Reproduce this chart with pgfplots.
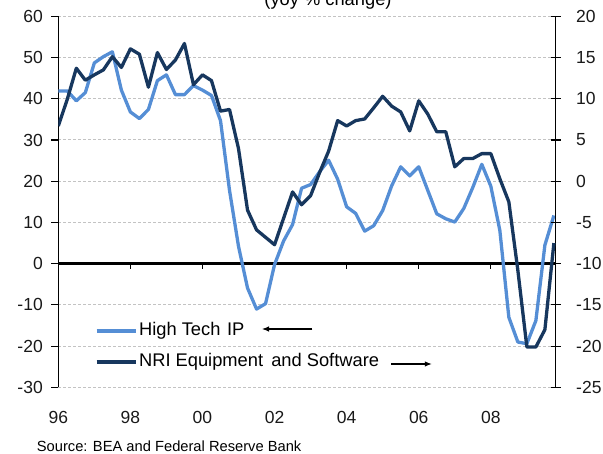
\documentclass[border=0pt]{standalone}
\usepackage{fontspec}
\setmainfont{Liberation Sans}
\usepackage{pgfplots}
\pgfplotsset{compat=1.18}
\usetikzlibrary{arrows.meta}
\definecolor{hightech}{RGB}{85,142,213}
\definecolor{nri}{RGB}{23,55,94}
\definecolor{gridgray}{RGB}{195,195,195}

\pgfplotstableread{
x y
1996.00 41.9
1996.25 41.9
1996.50 39.5
1996.75 41.5
1997.00 48.7
1997.25 50.2
1997.50 51.4
1997.75 42.1
1998.00 36.8
1998.25 35.2
1998.50 37.4
1998.75 44.4
1999.00 45.8
1999.25 41.0
1999.50 41.0
1999.75 43.2
2000.00 42.1
2000.25 40.8
2000.50 34.7
2000.75 17.8
2001.00 4.2
2001.25 -5.9
2001.50 -11.0
2001.75 -9.7
2002.00 -0.2
2002.25 5.5
2002.50 9.5
2002.75 18.3
2003.00 19.2
2003.25 22.3
2003.50 25.1
2003.75 20.5
2004.00 13.8
2004.25 12.2
2004.50 7.9
2004.75 9.2
2005.00 12.9
2005.25 18.9
2005.50 23.5
2005.75 21.3
2006.00 23.5
2006.25 17.8
2006.50 12.1
2006.75 10.9
2007.00 10.1
2007.25 13.4
2007.50 18.5
2007.75 24.1
2008.00 18.8
2008.25 8.1
2008.50 -13.0
2008.75 -19.0
2009.00 -19.4
2009.25 -13.8
2009.50 4.5
2009.75 11.7
}\hightechdata

\pgfplotstableread{
x y
1996.00 6.7
1996.25 9.95
1996.50 13.7
1996.75 12.25
1997.00 12.9
1997.25 13.5
1997.50 15.1
1997.75 13.8
1998.00 16.05
1998.25 15.4
1998.50 11.4
1998.75 15.6
1999.00 13.55
1999.25 14.7
1999.50 16.7
1999.75 11.7
2000.00 12.9
2000.25 12.2
2000.50 8.5
2000.75 8.7
2001.00 3.95
2001.25 -3.5
2001.50 -5.9
2001.75 -6.8
2002.00 -7.7
2002.25 -4.5
2002.50 -1.3
2002.75 -2.85
2003.00 -1.75
2003.25 1.05
2003.50 3.65
2003.75 7.35
2004.00 6.7
2004.25 7.35
2004.50 7.55
2004.75 8.9
2005.00 10.3
2005.25 9.1
2005.50 8.4
2005.75 6.1
2006.00 9.75
2006.25 8.15
2006.50 6.0
2006.75 6.0
2007.00 1.75
2007.25 2.75
2007.50 2.75
2007.75 3.35
2008.00 3.35
2008.25 0.3
2008.50 -2.5
2008.75 -10.8
2009.00 -20.1
2009.25 -20.1
2009.50 -18.0
2009.75 -7.5
}\nridata

\begin{document}
\begin{tikzpicture}
\pgfplotsset{
  every axis/.append style={
    scale only axis, width=497.4pt, height=371.1pt,
    at={(0pt,0pt)}, anchor=south west,
    xmin=1996, xmax=2009.8,
    /pgf/number format/assume math mode=true,
    tick label style={font=\fontsize{17.5}{20}\selectfont, text=black!90},
    major tick length=7pt,
  }
}
\begin{axis}[
  ymin=-30, ymax=60, ytick={-30,-20,...,60},
  axis y line*=left, axis x line*=bottom,
  x axis line style={draw=none},
  xtick={1996,1998,...,2008}, xticklabels={96,98,00,02,04,06,08},
  xtick style={draw=none},
  xticklabel style={yshift=-13pt},
  ymajorgrids,
  grid style={gridgray, dash pattern=on 3pt off 2pt, line width=1pt},
  y axis line style={line width=1.4pt, black},
  ytick style={line width=1.1pt, black},
  tick align=outside,
  yticklabel style={xshift=-5pt},
]
\draw[black, line width=2.4pt] (axis cs:1996,0) -- (axis cs:2009.8,0);
\pgfplotsinvokeforeach{1998,2000,2002,2004,2006,2008}{
  \draw[black, line width=1.2pt] (axis cs:#1,0) -- ++(0pt,-5pt);
}
\addplot[hightech, line width=3.3pt, line join=round] table[x=x, y=y] {\hightechdata};
\end{axis}

\begin{axis}[
  ymin=-25, ymax=20, ytick={-25,-20,...,20},
  axis y line*=right, axis x line=none,
  y axis line style={line width=1.4pt, black},
  ytick style={line width=1.1pt, black},
  tick align=center, major tick length=10pt,
  yticklabel style={xshift=12pt},
  legend style={draw=none, fill=none, at={(0.073,0.176)}, anchor=north west,
    inner sep=0pt, font=\fontsize{18.3}{22}\selectfont, row sep=14pt,
    column sep=1.5pt,
    nodes={inner sep=0pt, text height=13.4pt, text depth=3.9pt}},
  legend cell align=left,
  legend image code/.code={\draw[#1, line width=3.8pt] (0pt,0pt) -- (39pt,0pt);},
]
\addlegendimage{hightech}
\addlegendentry{High Tech\kern1.5pt\ IP}
\addplot[nri, line width=3.3pt, line join=round] table[x=x, y=y] {\nridata};
\addlegendentry{NRI Equipment\kern3pt\ and Software}
\end{axis}

\draw[-{Latex[length=7pt,width=5.5pt]}, line width=1.1pt] (254pt,58.4pt) -- (203.7pt,58.4pt);
\draw[-{Latex[length=7pt,width=5.5pt]}, line width=1.1pt] (332.7pt,23.4pt) -- (373.5pt,23.4pt);

\node[anchor=base, inner sep=0pt, font=\fontsize{18.3}{22}\selectfont] at (269.7pt,381.9pt) {(yoy \% change)};
\node[anchor=base west, inner sep=0pt, font=\fontsize{14.7}{17}\selectfont] at (-21.6pt,-64.3pt) {Source: BEA and Federal Reserve Bank};

\pgfresetboundingbox
\path[use as bounding box] (-58.3pt,-66.6pt) rectangle (544.7pt,387.4pt);
\end{tikzpicture}
\end{document}
